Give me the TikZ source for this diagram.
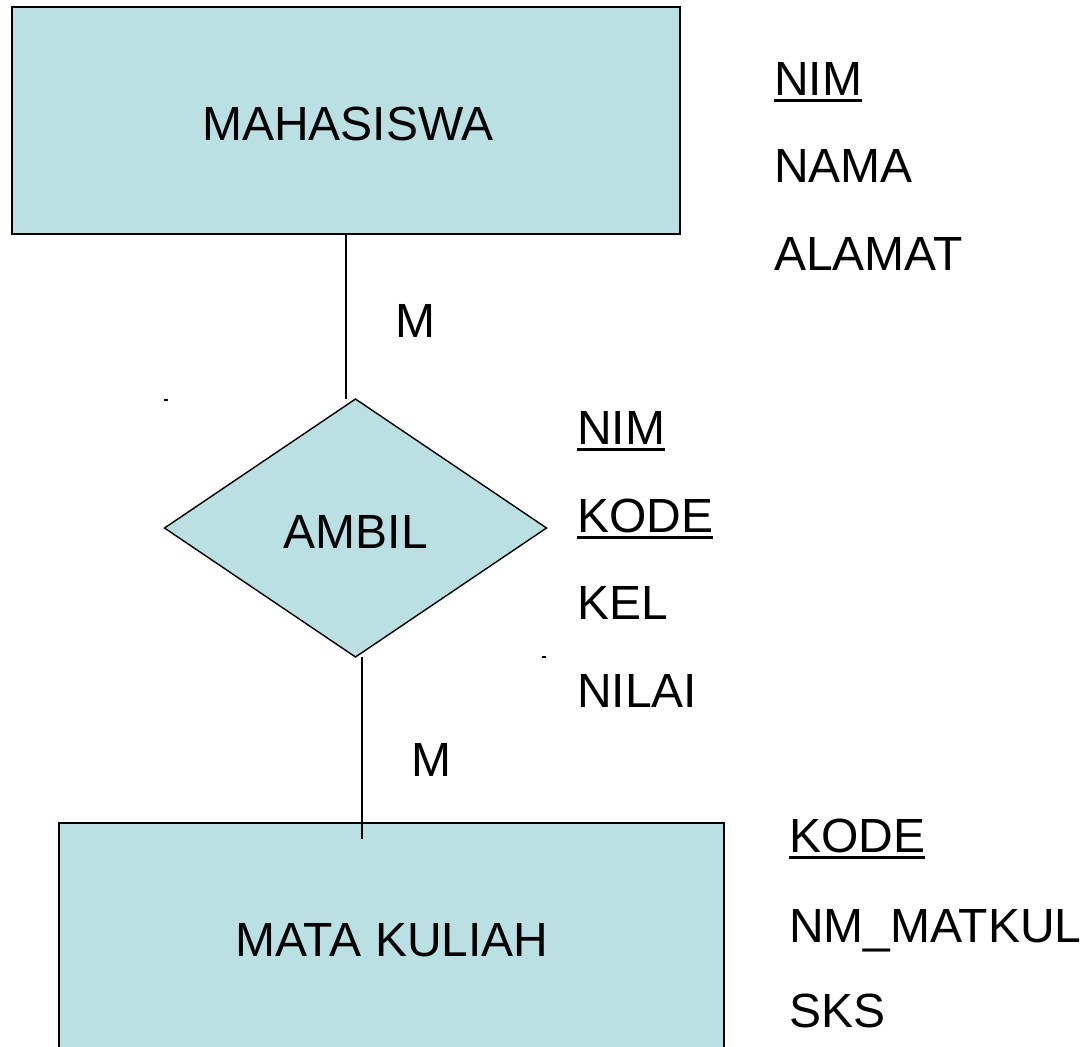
\documentclass[tikz,border=0pt]{standalone}
\usepackage{fontspec}
\setmainfont{Liberation Sans}
\usetikzlibrary{shapes.geometric}
\definecolor{entfill}{HTML}{BBE0E3}
\begin{document}
\begin{tikzpicture}[x=1pt,y=-1pt,
  every node/.style={inner sep=0pt,outer sep=0pt,font=\fontsize{48}{58}\selectfont},
  entity/.style={draw=black,line width=2pt,fill=entfill,rectangle},
  relation/.style={draw=black,line width=1.4pt,fill=entfill,diamond},
  link/.style={draw=black,line width=1.5pt},
  attr/.style={anchor=base west},
  keyline/.style={line width=3pt}]
  \useasboundingbox (0,0) rectangle (1088,1047);
  \begin{scope}
    \clip (0,0) rectangle (1088,1047);
    % entities and relationship
    \node[entity,minimum width=668pt,minimum height=227pt] (mah) at (346,120.5) {};
    \node[entity,minimum width=665pt,minimum height=250pt] (mk) at (391.5,948) {};
    \node[relation,minimum width=382pt,minimum height=258pt] (amb) at (355.5,528) {};
  \end{scope}

  % connectors
  \coordinate (lowend) at (362,839);
  \draw[link] (mah.south) -- (mah.south |- amb.north);
  \draw[link] (lowend |- amb.south) -- (lowend);

  % labels inside shapes
  \node[anchor=base] (tmah) at (348,140) {MAHASISWA};
  \node[anchor=base] (tamb) at (356,548) {AMBIL};
  \node[anchor=base] (tmk) at (392,956) {MATA KULIAH};

  % cardinalities
  \node[anchor=base] (card1) at (415,337) {M};
  \node[anchor=base] (card2) at (431,776) {M};

  % attributes of MAHASISWA
  \node[attr] (a1) at (774,95) {NIM};
  \node[attr] (a2) at (774,182) {NAMA};
  \node[attr] (a3) at (774,270) {ALAMAT};
  \draw[keyline] ([yshift=-5pt]a1.base west) -- ([yshift=-5pt]a1.base east);

  % attributes of AMBIL
  \node[attr] (b1) at (577,444) {NIM};
  \node[attr] (b2) at (577,532) {KODE};
  \node[attr] (b3) at (577,619) {KEL};
  \node[attr] (b4) at (577,707) {NILAI};
  \draw[keyline] ([yshift=-5pt]b1.base west) -- ([yshift=-5pt]b1.base east);
  \draw[keyline] ([yshift=-5pt]b2.base west) -- ([yshift=-5pt]b2.base east);

  % attributes of MATA KULIAH
  \node[attr] (c1) at (789,852) {KODE};
  \node[attr] (c2) at (789,942) {NM\_MATKUL};
  \node[attr] (c3) at (789,1027) {SKS};
  \draw[keyline] ([yshift=-5pt]c1.base west) -- ([yshift=-5pt]c1.base east);

  % stray marks
  \fill (164,399) rectangle (168,401);
  \fill (542,656) rectangle (546,658);
\end{tikzpicture}
\end{document}
